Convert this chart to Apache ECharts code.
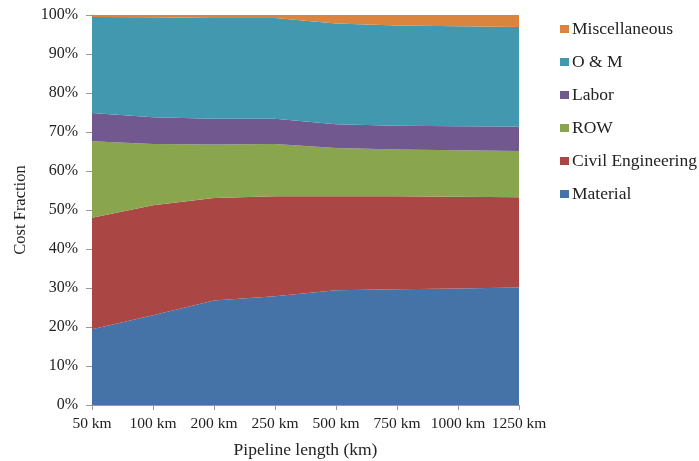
<!DOCTYPE html>
<html><head><meta charset="utf-8">
<script src="https://cdn.jsdelivr.net/npm/echarts@6/dist/echarts.min.js"></script>
<style>html,body{margin:0;padding:0;background:#fff}#c{width:699px;height:461px}</style>
</head><body><div id="c"></div>
<script>
const categories = ['50 km','100 km','200 km','250 km','500 km','750 km','1000 km','1250 km'];
const material = [19.4, 23.0, 26.8, 27.9, 29.4, 29.7, 29.9, 30.1];
const civil = [28.6, 28.2, 26.3, 25.6, 24.1, 23.8, 23.5, 23.2];
const row = [19.6, 15.7, 13.7, 13.4, 12.4, 12.0, 11.9, 11.8];
const labor = [7.3, 6.9, 6.6, 6.5, 6.1, 6.1, 6.2, 6.3];
const om = [24.6, 25.6, 25.8, 25.8, 25.8, 25.7, 25.6, 25.5];
const misc = [0.5, 0.6, 0.8, 0.8, 2.2, 2.7, 2.9, 3.1];
const names = ['Material','Civil Engineering','ROW','Labor','O & M','Miscellaneous'];
const colors = ['#4572A7','#AA4643','#89A54E','#71588F','#4198AF','#DB843D'];
const values = [material, civil, row, labor, om, misc];
const font = '"Liberation Serif", "DejaVu Serif", serif';

const chart = echarts.init(document.getElementById('c'));
chart.setOption({
  animation: false,
  textStyle: { fontFamily: font },
  grid: { left: 92, right: 180, top: 15, bottom: 56, containLabel: false, outerBoundsMode: 'none' },
  legend: {
    orient: 'vertical', left: 555, top: 15,
    data: names.slice().reverse(),
    icon: 'rect', itemWidth: 9, itemHeight: 8, itemGap: 15,
    textStyle: { fontFamily: font, fontSize: 17.5, color: '#222', padding: [0,0,0,-2] }
  },
  xAxis: {
    type: 'category', data: categories, boundaryGap: false,
    name: 'Pipeline length (km)', nameLocation: 'middle', nameGap: 36,
    nameTextStyle: { fontFamily: font, fontSize: 17.5, color: '#222' },
    axisLine: { lineStyle: { color: '#999' } },
    axisTick: { show: true, alignWithLabel: true, interval: 0, length: 5, lineStyle: { color: '#999' } },
    axisLabel: { interval: 0, hideOverlap: false, fontFamily: font, fontSize: 15.5, color: '#222', margin: 11 },
    splitLine: { show: false }
  },
  yAxis: {
    type: 'value', min: 0, max: 100, interval: 10,
    name: 'Cost Fraction', nameLocation: 'middle', nameGap: 63,
    nameTextStyle: { fontFamily: font, fontSize: 16.5, color: '#222' },
    axisLine: { show: true, lineStyle: { color: '#999' } },
    axisTick: { show: true, length: 6, lineStyle: { color: '#999' } },
    axisLabel: { formatter: '{value}%', fontFamily: font, fontSize: 16, color: '#222', margin: 14 },
    splitLine: { show: false }
  },
  series: names.map((n, i) => ({
    name: n, type: 'line', stack: 'total', data: values[i],
    symbol: 'none', color: colors[i],
    lineStyle: { width: 0 },
    areaStyle: { color: colors[i], opacity: 1 }
  }))
});
</script></body></html>
